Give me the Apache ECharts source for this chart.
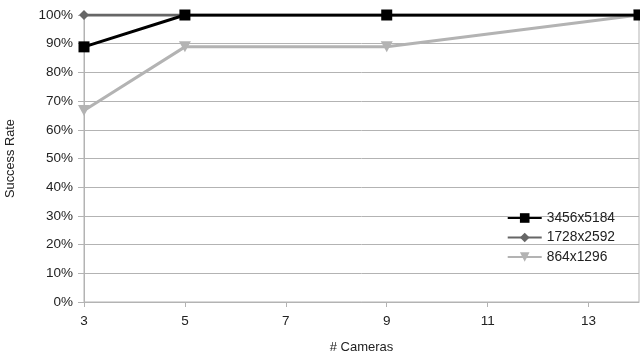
<!DOCTYPE html>
<html><head><meta charset="utf-8">
<script src="https://cdn.jsdelivr.net/npm/echarts@6/dist/echarts.min.js"></script>
<style>html,body{margin:0;padding:0;background:#fff}#c{width:640px;height:356px}</style>
</head><body><div id="c"></div>
<script>
const cameras = [3, 5, 9, 14];
const xTicks = [3, 5, 7, 9, 11, 13];
const seriesNames = ['3456x5184', '1728x2592', '864x1296'];
const rate3456 = [88.9, 100, 100, 100];
const rate1728 = [100, 100, 100, 100];
const rate864 = [66.7, 88.9, 88.9, 100];

const pairs = v => cameras.map((c, i) => [c, v[i]]);
const font = 'Liberation Sans, Arial, sans-serif';
const chart = echarts.init(document.getElementById('c'), null, {renderer: 'canvas'});
chart.setOption({
  animation: false,
  backgroundColor: '#fff',
  grid: {left: 84, right: 1, top: 15, bottom: 54, containLabel: false, outerBoundsMode: 'none',
         show: true, borderColor: '#b3b3b3', borderWidth: 1, backgroundColor: 'transparent'},
  legend: {
    data: seriesNames, orient: 'vertical', right: 20, top: 206, itemWidth: 34, itemHeight: 12, itemGap: 5.5,
    textStyle: {fontFamily: font, fontSize: 13.8, color: '#222'}
  },
  xAxis: {
    type: 'value', min: 3, max: 14,
    name: '# Cameras', nameLocation: 'middle', nameGap: 39,
    nameTextStyle: {fontFamily: font, fontSize: 13, color: '#222'},
    axisLine: {lineStyle: {color: '#b3b3b3', width: 1}},
    axisTick: {show: true, length: 5, customValues: xTicks, lineStyle: {color: '#b3b3b3'}},
    axisLabel: {customValues: xTicks, fontFamily: font, fontSize: 13.5, color: '#222', margin: 12},
    splitLine: {show: false}
  },
  yAxis: {
    type: 'value', min: 0, max: 100, interval: 10,
    name: 'Success Rate', nameLocation: 'middle', nameGap: 67, nameRotate: 90,
    nameTextStyle: {fontFamily: font, fontSize: 12.8, color: '#222'},
    axisLine: {show: true, lineStyle: {color: '#b3b3b3', width: 1}},
    axisTick: {show: true, length: 6, lineStyle: {color: '#b3b3b3'}},
    axisLabel: {formatter: '{value}%', fontFamily: font, fontSize: 13.5, color: '#222', margin: 11},
    splitLine: {lineStyle: {color: '#b3b3b3', width: 1}}
  },
  series: [
    {name: seriesNames[0], type: 'line', z: 4, data: pairs(rate3456), symbol: 'rect', symbolSize: 11,
     lineStyle: {color: '#000', width: 3}, itemStyle: {color: '#000'}},
    {name: seriesNames[1], type: 'line', z: 3, data: pairs(rate1728), symbol: 'diamond', symbolSize: 10,
     lineStyle: {color: '#666', width: 3}, itemStyle: {color: '#666'}},
    {name: seriesNames[2], type: 'line', z: 2, data: pairs(rate864), symbol: 'path://M0,0 L10,0 L5,10 Z', symbolSize: [12, 11],
     lineStyle: {color: '#b3b3b3', width: 3}, itemStyle: {color: '#b3b3b3'}}
  ]
});
</script></body></html>
